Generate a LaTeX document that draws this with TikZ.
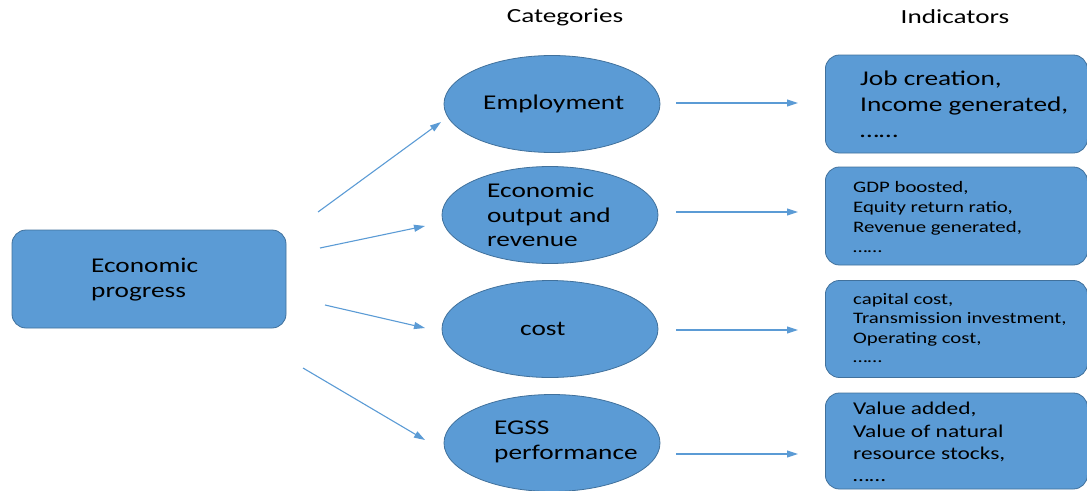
\documentclass[tikz,border=0pt]{standalone}
\usepackage{fontspec}
\setmainfont{Carlito}[FakeStretch=1.3]
\newfontfamily\titlefont{Carlito}[FakeStretch=1.36]
\usetikzlibrary{shapes.geometric,arrows.meta}
\definecolor{fillblue}{HTML}{5B9BD5}
\definecolor{edgeblue}{HTML}{41719C}
\definecolor{arrowblue}{HTML}{5B9BD5}
\tikzset{
  catell/.style={ellipse,draw=edgeblue,fill=fillblue,line width=0.8pt,inner sep=0pt,
    minimum width=216pt,minimum height=97pt},
  lbl/.style={anchor=west,inner sep=0pt,align=left},
  cattext/.style={lbl,font=\fontsize{21pt}{24.5pt}\selectfont},
  indbox/.style={rectangle,rounded corners=14pt,draw=edgeblue,fill=fillblue,line width=0.8pt,
    minimum width=262pt,anchor=west},
  mainbox/.style={rectangle,rounded corners=14pt,draw=edgeblue,fill=fillblue,line width=0.8pt,
    minimum width=274pt,minimum height=98pt},
  conn/.style={draw=arrowblue,line width=1.1pt,-{Triangle[length=11pt,width=7pt]}},
  title/.style={font=\titlefont\fontsize{20pt}{24pt}\selectfont}
}
\begin{document}
\begin{tikzpicture}[x=1pt,y=-1pt]
\useasboundingbox (0,0) rectangle (1087,490);
\node[title] (tcat) at (565,17) {Categories};
\node[title] (tind) at (955,17) {Indicators};

\node[mainbox] (main) at (149,279) {};
\node[cattext,font=\fontsize{21pt}{25pt}\selectfont] (lm) at (91,280) {Economic\\progress};

\node[catell] (e1) at (552,104) {};
\node[catell] (e2) at (550,215) {};
\node[catell] (e3) at (550,329) {};
\node[catell] (e4) at (552,443) {};
\node[cattext] (l1) at (483,104) {Employment};
\node[cattext] (l2) at (487,215) {Economic\\output and\\revenue};
\node[cattext] (l3) at (520,329) {cost};
\node[cattext] (l4) at (494,442) {EGSS\\performance};

\node[indbox,minimum height=98pt] (b1) at (825,104) {};
\node[indbox,minimum height=98pt] (b2) at (825,216) {};
\node[indbox,minimum height=97pt] (b3) at (825,329) {};
\node[indbox,minimum height=96pt] (b4) at (825,441) {};
\node[lbl,font=\fontsize{21pt}{26pt}\selectfont] (i1) at (860,104) {Job creation,\\Income generated,\\……};
\node[lbl,font=\fontsize{16pt}{20pt}\selectfont] (i2) at (853,217) {GDP boosted,\\Equity return ratio,\\Revenue generated,\\……};
\node[lbl,font=\fontsize{16pt}{19.5pt}\selectfont] (i3) at (853,328) {capital cost,\\Transmission investment,\\Operating cost,\\……};
\node[lbl,font=\fontsize{18pt}{22.3pt}\selectfont] (i4) at (853,442) {Value added,\\Value of natural\\resource stocks,\\……};

\coordinate (s1) at (318,212);
\coordinate (t1) at (441,122);
\coordinate (s2) at (320,248);
\coordinate (t2) at (425,226);
\coordinate (s3) at (325,305);
\coordinate (t3) at (425,328);
\coordinate (s4) at (303,368);
\coordinate (t4) at (425,440);
\draw[conn] (s1) -- (t1);
\draw[conn] (s2) -- (t2);
\draw[conn] (s3) -- (t3);
\draw[conn] (s4) -- (t4);

\coordinate (r1a) at (676,103);
\coordinate (r1b) at (798,103);
\coordinate (r2a) at (676,212);
\coordinate (r2b) at (798,212);
\coordinate (r3a) at (676,330);
\coordinate (r3b) at (798,330);
\coordinate (r4a) at (676,454);
\coordinate (r4b) at (798,454);
\draw[conn] (r1a) -- (r1b);
\draw[conn] (r2a) -- (r2b);
\draw[conn] (r3a) -- (r3b);
\draw[conn] (r4a) -- (r4b);
\end{tikzpicture}
\end{document}
